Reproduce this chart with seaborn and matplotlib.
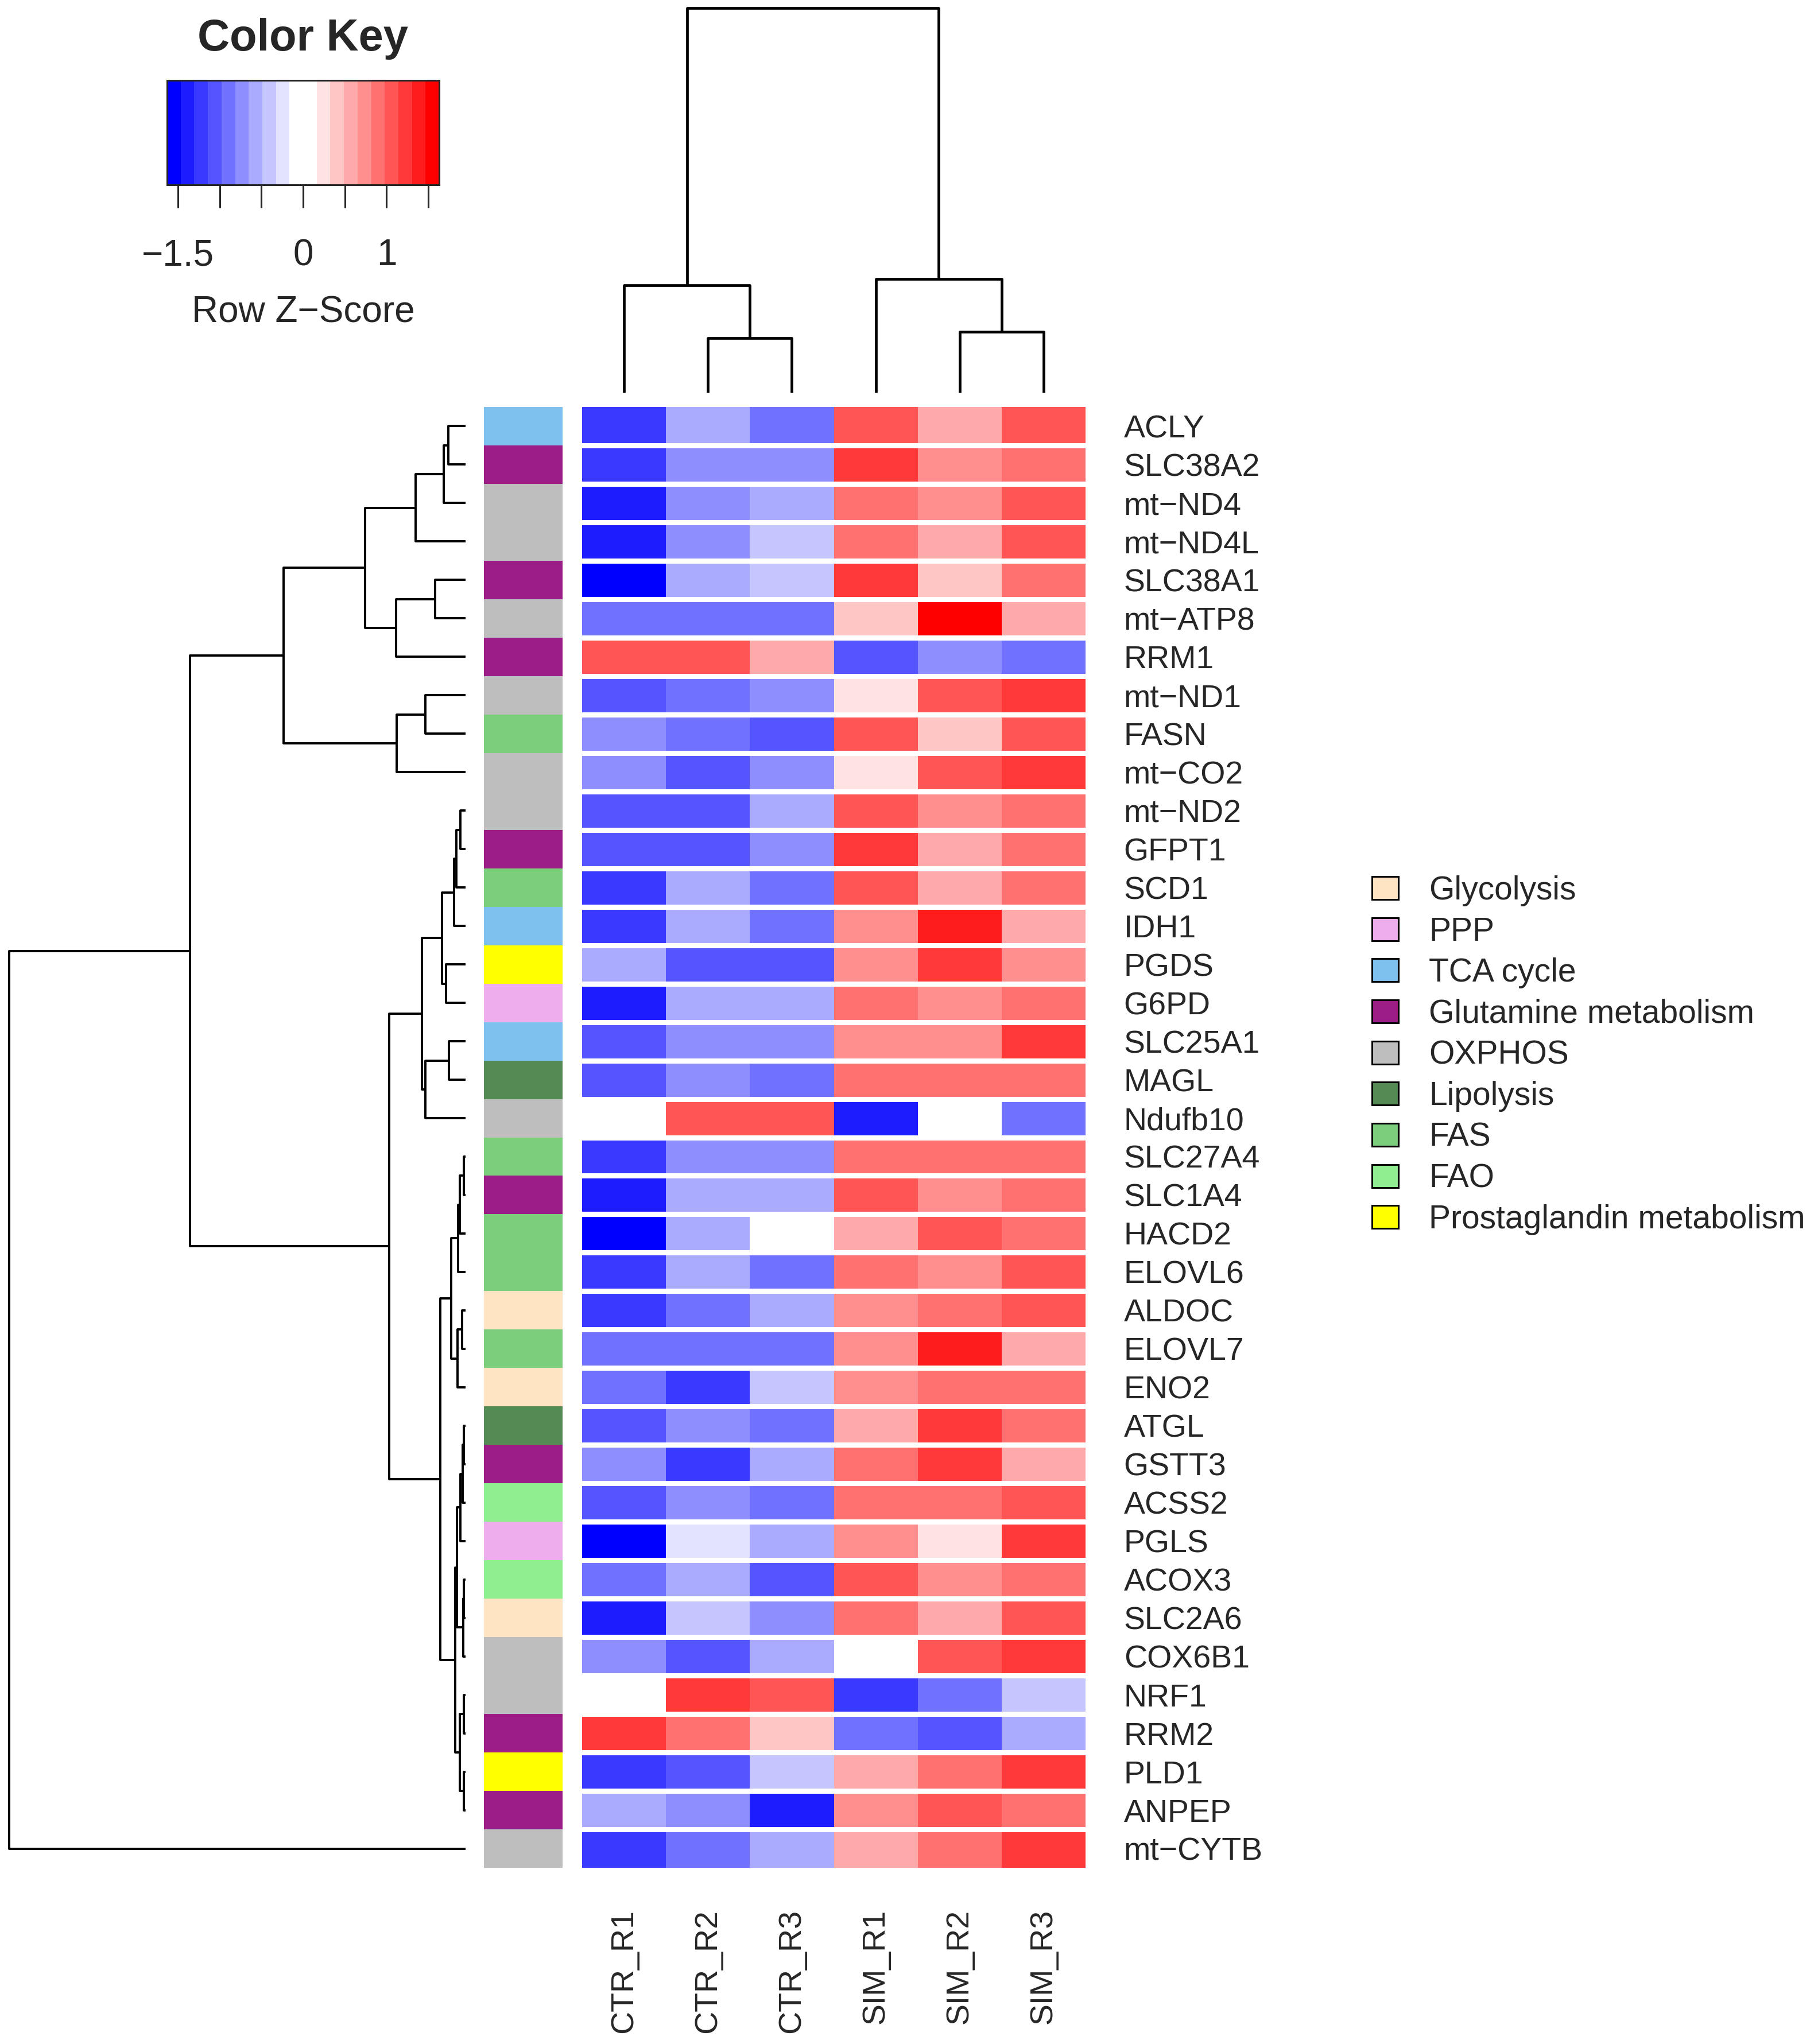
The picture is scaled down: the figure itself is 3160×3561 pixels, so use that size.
import numpy as np
import pandas as pd
import matplotlib
matplotlib.use("Agg")
import matplotlib.pyplot as plt
import seaborn as sns
from matplotlib.colors import ListedColormap, Normalize, to_rgb
from matplotlib.cm import ScalarMappable
from matplotlib.patches import Patch

# genes in the clustered (displayed) order, top to bottom
genes = ["ACLY", "SLC38A2", "mt−ND4", "mt−ND4L", "SLC38A1", "mt−ATP8", "RRM1",
         "mt−ND1", "FASN", "mt−CO2", "mt−ND2", "GFPT1", "SCD1", "IDH1", "PGDS",
         "G6PD", "SLC25A1", "MAGL", "Ndufb10", "SLC27A4", "SLC1A4", "HACD2",
         "ELOVL6", "ALDOC", "ELOVL7", "ENO2", "ATGL", "GSTT3", "ACSS2", "PGLS",
         "ACOX3", "SLC2A6", "COX6B1", "NRF1", "RRM2", "PLD1", "ANPEP", "mt−CYTB"]

pathway = ["TCA cycle", "Glutamine metabolism", "OXPHOS", "OXPHOS", "Glutamine metabolism",
           "OXPHOS", "Glutamine metabolism", "OXPHOS", "FAS", "OXPHOS", "OXPHOS",
           "Glutamine metabolism", "FAS", "TCA cycle", "Prostaglandin metabolism", "PPP",
           "TCA cycle", "Lipolysis", "OXPHOS", "FAS", "Glutamine metabolism", "FAS", "FAS",
           "Glycolysis", "FAS", "Glycolysis", "Lipolysis", "Glutamine metabolism", "FAO",
           "PPP", "FAO", "Glycolysis", "OXPHOS", "OXPHOS", "Glutamine metabolism",
           "Prostaglandin metabolism", "Glutamine metabolism", "OXPHOS"]

samples = ["CTR_R1", "CTR_R2", "CTR_R3", "SIM_R1", "SIM_R2", "SIM_R3"]

# row z-scores, one list per sample
ctr_r1 = [-1.22, -1.22, -1.39, -1.39, -1.55, -0.90, 1.06, -1.06, -0.73, -0.73, -1.06, -1.06, -1.22,
          -1.22, -0.57, -1.39, -1.06, -1.06, -0.05, -1.22, -1.39, -1.55, -1.22, -1.22, -0.90,
          -0.90, -1.06, -0.73, -1.06, -1.55, -0.90, -1.39, -0.73, -0.05, 1.22, -1.22, -0.57, -1.22]
ctr_r2 = [-0.57, -0.73, -0.73, -0.73, -0.57, -0.90, 1.06, -0.90, -0.90, -1.06, -1.06, -1.06, -0.57,
          -0.57, -1.06, -0.57, -0.73, -0.73, 1.06, -0.73, -0.57, -0.57, -0.57, -0.90, -0.90,
          -1.22, -0.73, -1.22, -0.73, -0.24, -0.57, -0.41, -1.06, 1.22, 0.90, -1.06, -0.73, -0.90]
ctr_r3 = [-0.90, -0.73, -0.57, -0.41, -0.41, -0.90, 0.57, -0.73, -1.06, -0.73, -0.57, -0.73, -0.90,
          -0.90, -1.06, -0.57, -0.73, -0.90, 1.06, -0.73, -0.57, -0.05, -0.90, -0.57, -0.90,
          -0.41, -0.90, -0.57, -0.90, -0.57, -1.06, -0.73, -0.57, 1.06, 0.41, -0.41, -1.39, -0.57]
sim_r1 = [1.06, 1.22, 0.90, 0.90, 1.22, 0.41, -1.06, 0.24, 1.06, 0.24, 1.06, 1.22, 1.06,
          0.73, 0.73, 0.90, 0.73, 0.90, -1.39, 0.90, 1.06, 0.57, 0.90, 0.73, 0.73,
          0.73, 0.57, 0.90, 0.90, 0.73, 1.06, 0.90, 0.05, -1.22, -0.90, 0.57, 0.73, 0.57]
sim_r2 = [0.57, 0.73, 0.73, 0.57, 0.41, 1.55, -0.73, 1.06, 0.41, 1.06, 0.73, 0.57, 0.57,
          1.39, 1.22, 0.73, 0.73, 0.90, 0.05, 0.90, 0.73, 1.06, 0.73, 0.90, 1.39,
          0.90, 1.22, 1.22, 0.90, 0.24, 0.73, 0.57, 1.06, -0.90, -1.06, 0.90, 1.06, 0.90]
sim_r3 = [1.06, 0.90, 1.06, 1.06, 0.90, 0.57, -0.90, 1.22, 1.06, 1.22, 0.90, 0.90, 0.90,
          0.57, 0.73, 0.90, 1.22, 0.90, -0.90, 0.90, 0.90, 0.90, 1.06, 1.06, 0.57,
          0.90, 0.90, 0.57, 1.06, 1.22, 0.90, 1.06, 1.22, -0.41, -0.57, 1.22, 0.90, 1.22]

pathway_names = ["Glycolysis", "PPP", "TCA cycle", "Glutamine metabolism", "OXPHOS",
                 "Lipolysis", "FAS", "FAO", "Prostaglandin metabolism"]
pathway_colors = ["#FFE4C4", "#EEAEEE", "#7EC0EE", "#9C1D86", "#BEBEBE",
                  "#548B54", "#7CCD7C", "#90EE90", "#FFFF00"]

# row dendrogram, built from sub-clusters: (left, right, merge height)
t_a = ((("ACLY", "SLC38A2", 47), "mt−ND4", 59), "mt−ND4L", 137)
t_b = (("SLC38A1", "mt−ATP8", 84), "RRM1", 190)
t_c = (("mt−ND1", "FASN", 110), "mt−CO2", 189)
top = ((t_a, t_b, 275), t_c, 499)
m1 = (((("mt−ND2", "GFPT1", 14), "SCD1", 25), "IDH1", 31), ("PGDS", "G6PD", 54), 65)
m2 = (("SLC25A1", "MAGL", 46), "Ndufb10", 110)
l1 = (((("SLC27A4", "SLC1A4", 4), "HACD2", 16), "ELOVL6", 20),
      (("ALDOC", "ELOVL7", 10), "ENO2", 22), 39)
l2a = (((("ATGL", "GSTT3", 4), "ACSS2", 8), "PGLS", 14),
       (("ACOX3", "SLC2A6", 4), "COX6B1", 6), 24)
l2b = (("NRF1", "RRM2", 4), ("PLD1", "ANPEP", 4), 16)
mid = ((m1, m2, 120), (l1, (l2a, l2b, 29), 69), 209)
row_tree = ((top, mid, 754), "mt−CYTB", 1250)

col_tree = (("CTR_R1", ("CTR_R2", "CTR_R3", 95), 187),
            ("SIM_R1", ("SIM_R2", "SIM_R3", 106), 198), 670)


# key palette: blue -> white -> red, 20 steps
def ramp(c0, c1, n):
    a, b = np.array(to_rgb(c0)), np.array(to_rgb(c1))
    return [tuple(a + (b - a) * t) for t in np.linspace(0, 1, n)]


key_cols = ramp("blue", "white", 10) + ramp("white", "red", 10)
cmap = ListedColormap(key_cols)
zlim = 1.63

df = pd.DataFrame({"CTR_R1": ctr_r1, "CTR_R2": ctr_r2, "CTR_R3": ctr_r3,
                   "SIM_R1": sim_r1, "SIM_R2": sim_r2, "SIM_R3": sim_r3}, index=genes)
side = pd.DataFrame({"pathway": [pathway_names.index(p) for p in pathway]}, index=genes)

sns.set_style("white")
plt.rcParams["font.family"] = ["Liberation Sans", "DejaVu Sans"]

W, H = 3160, 3561
fig = plt.figure(figsize=(W / 100, H / 100), dpi=100)


def box(x0, y0, x1, y1):
    # pixel box (top-left origin) -> figure fractions
    return [x0 / W, 1 - y1 / H, (x1 - x0) / W, (y1 - y0) / H]


hm_x0, hm_x1, hm_y0, hm_y1 = 1014, 1891, 709, 3254

# main heatmap
ax = fig.add_axes(box(hm_x0, hm_y0, hm_x1, hm_y1))
sns.heatmap(df, ax=ax, cmap=cmap, vmin=-zlim, vmax=zlim, cbar=False)
for i in range(1, len(genes)):
    ax.axhline(i, color="white", lw=6.5)
ax.yaxis.tick_right()
ax.set_yticks(np.arange(len(genes)) + 0.5)
ax.set_yticklabels(genes, rotation=0, fontsize=40, ha="left")
ax.set_xticklabels(samples, rotation=90, fontsize=40)
ax.tick_params(axis="y", length=0, pad=48)
ax.tick_params(axis="x", length=0, pad=52)
ax.set_xlabel("")
ax.set_ylabel("")

# row side colours
ax_side = fig.add_axes(box(843, hm_y0, 980, hm_y1))
sns.heatmap(side, ax=ax_side, cmap=ListedColormap(pathway_colors), vmin=-0.5,
            vmax=len(pathway_names) - 0.5, cbar=False, xticklabels=False, yticklabels=False)
ax_side.set_ylabel("")


def dendro(node, pos, segs):
    if isinstance(node, str):
        return pos[node], 0
    left, right, h = node
    pl, hl = dendro(left, pos, segs)
    pr, hr = dendro(right, pos, segs)
    segs.append(([pl, pl, pr, pr], [hl, h, h, hr]))
    return (pl + pr) / 2, h


# row dendrogram
ax_rd = fig.add_axes(box(16, hm_y0, 811, hm_y1))
segs = []
dendro(row_tree, {g: i + 0.5 for i, g in enumerate(genes)}, segs)
for p, h in segs:
    ax_rd.plot(h, p, color="black", lw=2.8, solid_capstyle="butt", clip_on=False)
ax_rd.set_ylim(len(genes), 0)
ax_rd.set_xlim(1250, 0)
ax_rd.axis("off")

# column dendrogram
ax_cd = fig.add_axes(box(hm_x0, 14, hm_x1, 684))
segs = []
dendro(col_tree, {s: i + 0.5 for i, s in enumerate(samples)}, segs)
for p, h in segs:
    ax_cd.plot(p, h, color="black", lw=3.4, solid_capstyle="butt", clip_on=False)
ax_cd.set_xlim(0, len(samples))
ax_cd.set_ylim(0, 670)
ax_cd.axis("off")

# colour key
ax_key = fig.add_axes(box(291, 140, 765, 322))
cb = fig.colorbar(ScalarMappable(norm=Normalize(-zlim, zlim), cmap=cmap), cax=ax_key,
                  orientation="horizontal")
cb.outline.set_linewidth(2.2)
cb.set_ticks([-1.5, -1.0, -0.5, 0, 0.5, 1.0, 1.5])
cb.set_ticklabels(["−1.5", "", "", "0", "", "1", ""])
ax_key.tick_params(axis="x", length=29, width=2.2, pad=38, labelsize=46, direction="out")
fig.text(528 / W, 1 - 67 / H, "Color Key", fontsize=56, fontweight="bold",
         ha="center", va="center")
fig.text(528 / W, 1 - 544 / H, "Row Z−Score", fontsize=46, ha="center", va="center")

# pathway legend
handles = [Patch(facecolor=c, edgecolor="black", linewidth=2.2, label=n)
           for n, c in zip(pathway_names, pathway_colors)]
fig.legend(handles=handles, loc="upper left", bbox_to_anchor=(2390 / W, 1 - 1525 / H),
           frameon=False, fontsize=41, handlelength=0.81, handleheight=0.70,
           handletextpad=0.93, labelspacing=0.31, borderpad=0, borderaxespad=0)

fig.savefig("out.png", dpi=100)
